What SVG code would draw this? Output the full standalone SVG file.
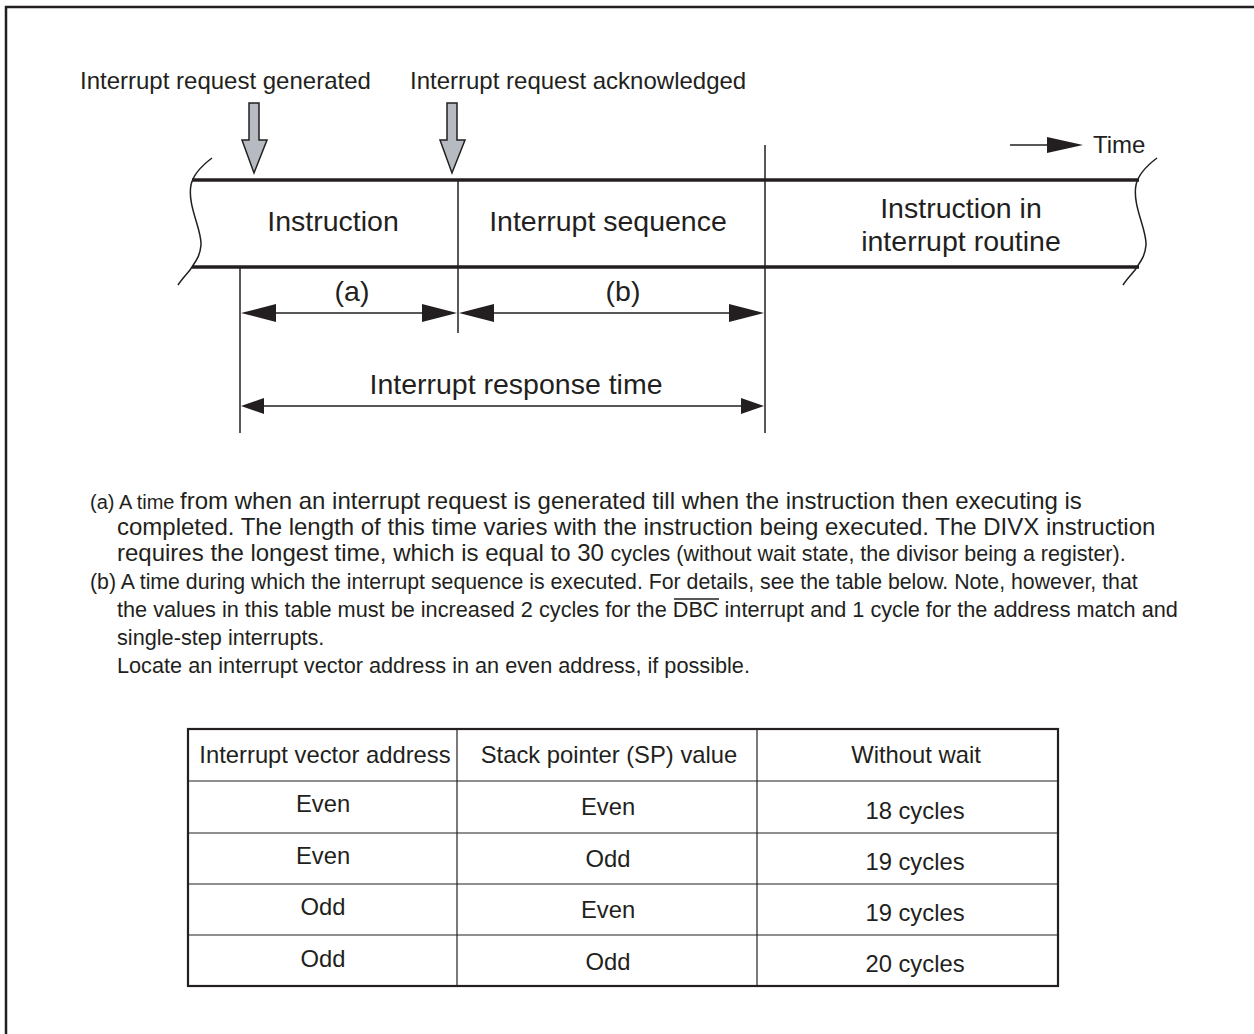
<svg xmlns="http://www.w3.org/2000/svg" width="1254" height="1034" viewBox="0 0 1254 1034">
<defs>
<style>
text{font-family:"Liberation Sans",Arial,sans-serif;fill:#231f20}
.t24{font-size:24px}
.t28{font-size:28.5px}
.tb{font-size:23.8px}
.thin{stroke:#231f20;stroke-width:1.5;fill:none}
.band{stroke:#231f20;stroke-width:3.5;fill:none}
.blk{fill:#231f20;stroke:none}
.garrow{fill:#b6bbc2;stroke:#231f20;stroke-width:1.5}
.mid{text-anchor:middle}
.tbl{stroke:#231f20;stroke-width:1.2;fill:none}
</style>
</defs>
<rect width="1254" height="1034" fill="#fff"/>
<path d="M6,1034 V7 H1254" fill="none" stroke="#231f20" stroke-width="2.5"/>

<g id="label-generated"><text class="t24" x="80" y="89">Interrupt request generated</text></g>
<g id="label-acknowledged"><text class="t24" x="410" y="89">Interrupt request acknowledged</text></g>

<g id="arrow-generated"><path class="garrow" d="M249,103 H259 V140 H267 L254,173 L242,140 H249 Z"/></g>
<g id="arrow-acknowledged"><path class="garrow" d="M447,103 H457 V140 H465 L452,173 L440,140 H447 Z"/></g>

<g id="time-axis">
<line class="thin" x1="1010" y1="145" x2="1050" y2="145"/>
<path class="blk" d="M1047,137 L1083,145 L1047,153 Z"/>
<text class="t24" x="1093" y="153">Time</text>
</g>

<g id="band">
<line class="band" x1="192" y1="180" x2="1139" y2="180"/>
<line class="band" x1="192" y1="267" x2="1139" y2="267"/>
<path class="thin" d="M212,158 C200,167 193,175 191,185 C187,205 202,230 201,245 C200,257 195,262 190,270 C185,276 181,280 178,285"/>
<path class="thin" d="M1157,158 C1145,167 1138,175 1136,185 C1132,205 1147,230 1146,245 C1145,257 1140,262 1135,270 C1130,276 1126,280 1123,285"/>
</g>

<g id="node-instruction"><text class="t28 mid" x="333" y="231">Instruction</text></g>
<g id="node-sequence"><text class="t28 mid" x="608" y="231">Interrupt sequence</text></g>
<g id="node-routine"><text class="t28 mid" x="961" y="218">Instruction in</text><text class="t28 mid" x="961" y="251">interrupt routine</text></g>

<g id="connectors">
<line class="thin" x1="458" y1="180" x2="458" y2="333"/>
<line class="thin" x1="765" y1="145" x2="765" y2="433"/>
<line class="thin" x1="240" y1="267" x2="240" y2="433"/>
<line class="thin" x1="260" y1="313" x2="440" y2="313"/>
<path class="blk" d="M241,313 L276,304 L276,322 Z"/>
<path class="blk" d="M457,313 L422,304 L422,322 Z"/>
<line class="thin" x1="470" y1="313" x2="750" y2="313"/>
<path class="blk" d="M459,313 L494,304 L494,322 Z"/>
<path class="blk" d="M764,313 L729,304 L729,322 Z"/>
<line class="thin" x1="255" y1="406" x2="750" y2="406"/>
<path class="blk" d="M241,406 L264,398 L264,414 Z"/>
<path class="blk" d="M764,406 L741,398 L741,414 Z"/>
</g>

<g id="label-a"><text class="t28 mid" x="352" y="301">(a)</text></g>
<g id="label-b"><text class="t28 mid" x="623" y="301">(b)</text></g>
<g id="label-response"><text class="t28 mid" x="516" y="394">Interrupt response time</text></g>

<g id="notes">
<text x="90" y="509"><tspan style="font-size:20px">(a) A time </tspan><tspan style="font-size:24px">from when an interrupt request is generated till when the instruction then executing is</tspan></text>
<text x="117" y="535" style="font-size:24px">completed. The length of this time varies with the instruction being executed. The DIVX instruction</text>
<text x="117" y="561"><tspan style="font-size:24px">requires the longest time, which is equal to 30 </tspan><tspan style="font-size:21.5px">cycles (without wait state, the divisor being a register).</tspan></text>
<text x="90" y="589" style="font-size:21.3px">(b) A time during which the interrupt sequence is executed. For details, see the table below. Note, however, that</text>
<text x="117" y="617" style="font-size:21.7px">the values in this table must be increased 2 cycles for the DBC interrupt and 1 cycle for the address match and</text>
<line class="thin" x1="674" y1="599" x2="719" y2="599"/>
<text x="117" y="645" style="font-size:21.7px">single-step interrupts.</text>
<text x="117" y="673" style="font-size:21.7px">Locate an interrupt vector address in an even address, if possible.</text>
</g>

<g id="table">
<rect x="188" y="729" width="870" height="257" fill="none" stroke="#231f20" stroke-width="2.2"/>
<line class="tbl" x1="457" y1="729" x2="457" y2="986"/>
<line class="tbl" x1="757" y1="729" x2="757" y2="986"/>
<line class="tbl" x1="188" y1="781" x2="1058" y2="781"/>
<line class="tbl" x1="188" y1="833" x2="1058" y2="833"/>
<line class="tbl" x1="188" y1="884" x2="1058" y2="884"/>
<line class="tbl" x1="188" y1="935" x2="1058" y2="935"/>
<text class="tb mid" x="325" y="763">Interrupt vector address</text>
<text class="tb mid" x="609" y="763">Stack pointer (SP) value</text>
<text class="tb mid" x="916" y="763">Without wait</text>
<text class="tb mid" x="323" y="812">Even</text>
<text class="tb mid" x="608" y="815">Even</text>
<text class="tb mid" x="915" y="819">18 cycles</text>
<text class="tb mid" x="323" y="864">Even</text>
<text class="tb mid" x="608" y="867">Odd</text>
<text class="tb mid" x="915" y="870">19 cycles</text>
<text class="tb mid" x="323" y="915">Odd</text>
<text class="tb mid" x="608" y="918">Even</text>
<text class="tb mid" x="915" y="921">19 cycles</text>
<text class="tb mid" x="323" y="967">Odd</text>
<text class="tb mid" x="608" y="970">Odd</text>
<text class="tb mid" x="915" y="972">20 cycles</text>
</g>
</svg>
